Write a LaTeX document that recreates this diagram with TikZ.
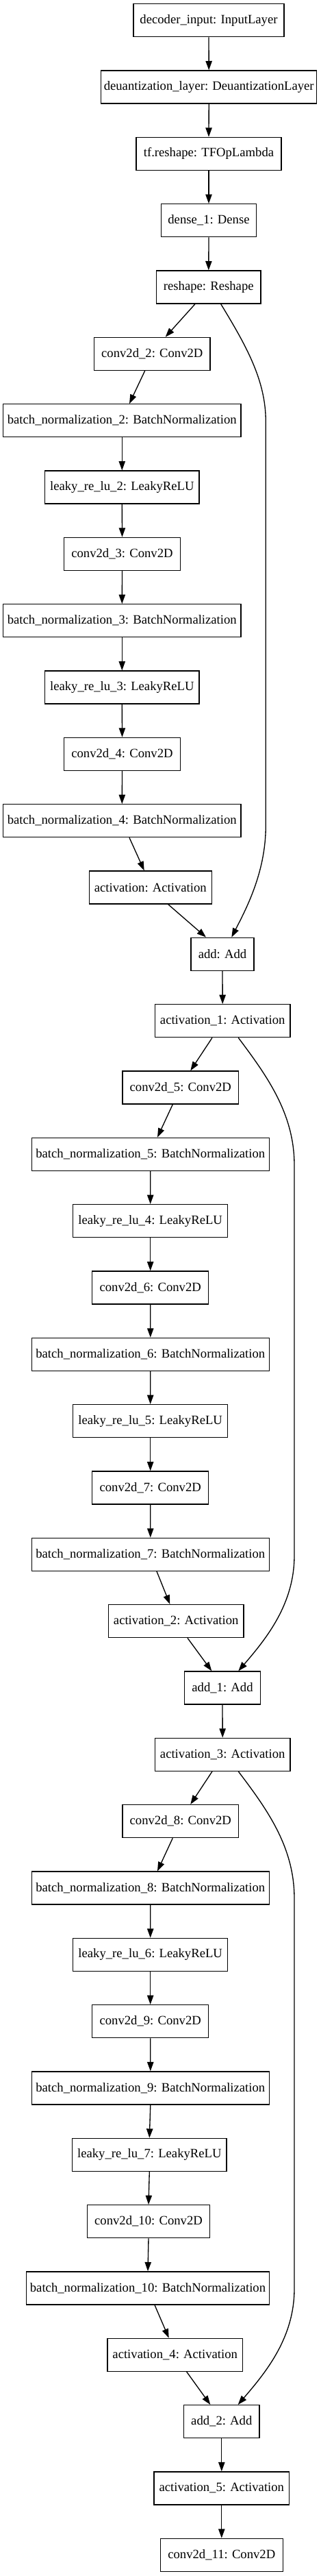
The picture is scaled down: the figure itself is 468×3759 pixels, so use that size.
\documentclass[tikz,border=0pt]{standalone}
\usepackage{fontspec}
\setmainfont{Liberation Serif}
\usetikzlibrary{arrows.meta}
\begin{document}
\begin{tikzpicture}[x=0.75pt,y=-0.75pt,
  layer/.style={draw=black,line width=1pt,inner sep=0pt,minimum height=36pt,
    minimum width=#1*0.75pt,font=\fontsize{14}{16}\selectfont,fill=white},
  edge/.style={line width=1pt,-{Triangle[length=10pt,width=7pt]}}]
\useasboundingbox (0,0) rectangle (468,3759);
% nodes
\node[layer=220]   (n0)  at (305,29.7)   {decoder\_input: InputLayer};
\node[layer=315]   (n1)  at (305.2,127.0) {deuantization\_layer: DeuantizationLayer};
\node[layer=212]   (n2)  at (305,224.4)  {tf.reshape: TFOpLambda};
\node[layer=138.6] (n3)  at (305,321.7)  {dense\_1: Dense};
\node[layer=152.3] (n4)  at (304.8,419.0) {reshape: Reshape};
\node[layer=169.3] (n5)  at (222.3,516.4) {conv2d\_2: Conv2D};
\node[layer=347.3] (n6)  at (178.3,613.7) {batch\_normalization\_2: BatchNormalization};
\node[layer=225.3] (n7)  at (178.3,711.0) {leaky\_re\_lu\_2: LeakyReLU};
\node[layer=169.6] (n8)  at (178.5,808.3) {conv2d\_3: Conv2D};
\node[layer=347.3] (n9)  at (178.3,905.7) {batch\_normalization\_3: BatchNormalization};
\node[layer=225.3] (n10) at (178.3,1003.0) {leaky\_re\_lu\_3: LeakyReLU};
\node[layer=169.6] (n11) at (178.5,1100.3) {conv2d\_4: Conv2D};
\node[layer=347.3] (n12) at (178.3,1197.7) {batch\_normalization\_4: BatchNormalization};
\node[layer=179]   (n13) at (219.8,1295.0) {activation: Activation};
\node[layer=92]    (n14) at (325,1392.3) {add: Add};
\node[layer=197.7] (n15) at (325.2,1489.7) {activation\_1: Activation};
\node[layer=169.7] (n16) at (263.8,1587.0) {conv2d\_5: Conv2D};
\node[layer=347]   (n17) at (219.8,1684.3) {batch\_normalization\_5: BatchNormalization};
\node[layer=226]   (n18) at (219.7,1781.6) {leaky\_re\_lu\_4: LeakyReLU};
\node[layer=170]   (n19) at (219.7,1879.0) {conv2d\_6: Conv2D};
\node[layer=347]   (n20) at (219.8,1976.3) {batch\_normalization\_6: BatchNormalization};
\node[layer=226]   (n21) at (219.7,2073.6) {leaky\_re\_lu\_5: LeakyReLU};
\node[layer=170]   (n22) at (219.7,2171.0) {conv2d\_7: Conv2D};
\node[layer=347]   (n23) at (219.8,2268.3) {batch\_normalization\_7: BatchNormalization};
\node[layer=197.7] (n24) at (257.2,2365.6) {activation\_2: Activation};
\node[layer=110.6] (n25) at (325,2463.0) {add\_1: Add};
\node[layer=197.7] (n26) at (325.2,2560.3) {activation\_3: Activation};
\node[layer=169.7] (n27) at (263.8,2657.6) {conv2d\_8: Conv2D};
\node[layer=347]   (n28) at (219.8,2755.0) {batch\_normalization\_8: BatchNormalization};
\node[layer=226]   (n29) at (219.7,2852.3) {leaky\_re\_lu\_6: LeakyReLU};
\node[layer=170]   (n30) at (219.7,2949.6) {conv2d\_9: Conv2D};
\node[layer=347]   (n31) at (219.8,3046.9) {batch\_normalization\_9: BatchNormalization};
\node[layer=225.3] (n32) at (218.3,3144.3) {leaky\_re\_lu\_7: LeakyReLU};
\node[layer=178.6] (n33) at (217,3241.6) {conv2d\_10: Conv2D};
\node[layer=354.6] (n34) at (216,3338.9) {batch\_normalization\_10: BatchNormalization};
\node[layer=197.3] (n35) at (255.7,3436.3) {activation\_4: Activation};
\node[layer=110.3] (n36) at (323.8,3533.6) {add\_2: Add};
\node[layer=197.7] (n37) at (323.8,3630.9) {activation\_5: Activation};
\node[layer=179]   (n38) at (323.8,3728.3) {conv2d\_11: Conv2D};
% straight edges
\foreach \a/\b in {n0/n1,n1/n2,n2/n3,n3/n4,n6/n7,n7/n8,n8/n9,n9/n10,n10/n11,n11/n12,
  n14/n15,n17/n18,n18/n19,n19/n20,n20/n21,n21/n22,n22/n23,n25/n26,
  n28/n29,n29/n30,n30/n31,n31/n32,n32/n33,n33/n34,n36/n37,n37/n38}
  \draw[edge] (\a.south) -- (\b.north);
% slanted edges
\foreach \a/\xa/\b/\xb in {n4/285/n5/241.7, n5/211.7/n6/189, n12/189/n13/210.7,
  n13/245.7/n14/301, n15/310/n16/278.3, n16/252.3/n17/230, n23/229/n24/248.3,
  n24/274/n25/309.3, n26/310/n27/278.3, n27/252.3/n28/230, n34/226/n35/246.7,
  n35/272.7/n36/307.3}
  \draw[edge] (\xa,0 |- \a.south) -- (\xb,0 |- \b.north);
% skip connections
\draw[edge] (322.7,0 |- n4.south) .. controls (360,505) and (388.3,555) .. (388.3,615)
  -- (388.3,1205) .. controls (388.3,1270) and (362,1322) .. (338.3,0 |- n14.north);
\draw[edge] (348.3,0 |- n15.south) .. controls (390,1570) and (430,1625) .. (430,1700)
  -- (430,2270) .. controls (430,2340) and (390,2390) .. (348.3,0 |- n25.north);
\draw[edge] (348.3,0 |- n26.south) .. controls (390,2640) and (430,2695) .. (430,2770)
  -- (430,3340) .. controls (430,3410) and (390,3460) .. (347.7,0 |- n36.north);
\end{tikzpicture}
\end{document}
